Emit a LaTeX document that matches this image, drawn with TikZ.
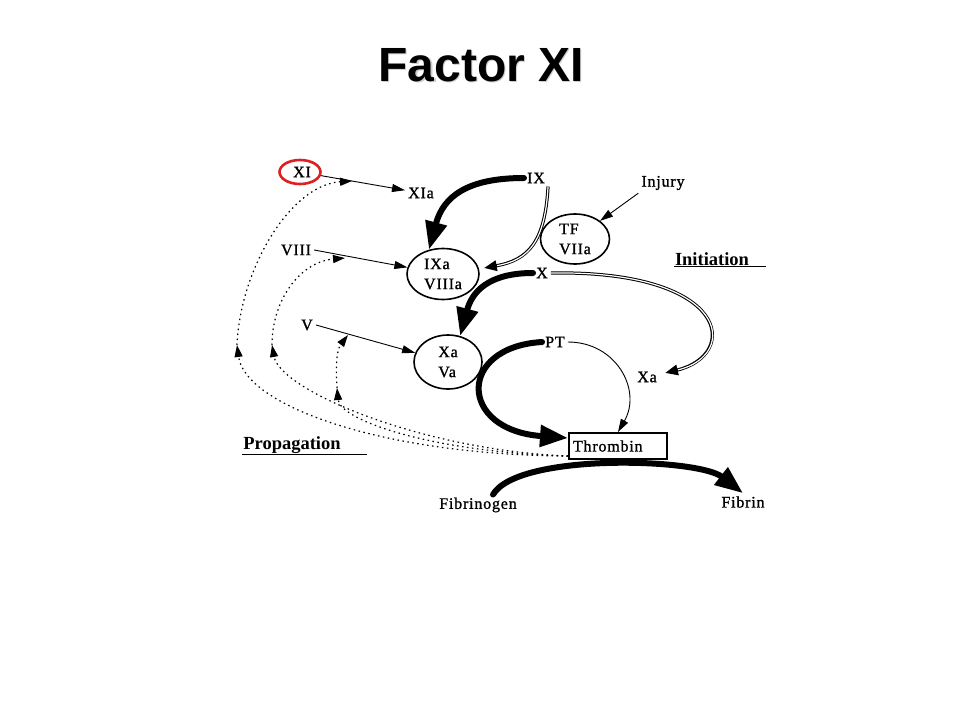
\documentclass[tikz,border=0pt]{standalone}
\usepackage{fontspec}
\setmainfont{Liberation Serif}
\newfontfamily\labfont{Liberation Serif}[LetterSpace=5, FakeBold=1.2]
\newfontfamily\titlefont{Liberation Sans}
\usetikzlibrary{arrows.meta, shapes.geometric}
\definecolor{ringred}{RGB}{222,32,32}
\tikzset{
x=1pt, y=1pt, % one unit is one pixel of the slide
factor/.style={inner sep=3pt, font=\labfont\fontsize{16}{20}\selectfont}, % plain factor names
complex/.style={ellipse, draw, line width=1.6pt, inner sep=0pt, align=left, font=\labfont\fontsize{16}{20}\selectfont}, % bound complexes
ring/.style={ellipse, draw=ringred, line width=2.6pt, minimum width=41pt, minimum height=24pt, inner sep=0pt}, % highlight
product/.style={draw, line width=2pt, anchor=west, text width=90pt, align=left, inner xsep=4pt, minimum height=26pt, font=\labfont\fontsize{16}{20}\selectfont},
heading/.style={inner sep=1pt, font=\bfseries\fontsize{18.5}{22}\selectfont}, % phase names
title/.style={font=\titlefont\bfseries\fontsize{48}{56}\selectfont},
conv/.style={line width=0.9pt, -{Triangle[length=13pt, width=8pt]}}, % thin arrows
big/.style={line width=6pt, line cap=round, -{Triangle[length=28pt, width=21pt]}}, % bold arrows
dbl/.style={line width=3.2pt, -{Triangle[length=13pt, width=10pt]}, postaction={draw=white, line width=1.2pt, -, shorten >=13.5pt}}, % double lines
feedback/.style={dash pattern=on 1.5pt off 3.5pt, line width=1.2pt, -{Triangle[length=12pt, width=8pt]}}, % thrombin feedback
}

\begin{document}
\begin{tikzpicture}
    \path[fill=white, use as bounding box] (0,0) rectangle (960,-720);
    % title with its shadow
    \node[title, text=gray!40] (titleshadow) at (482.5,-66.5) {Factor XI};
    \node[title] (title) at (481,-65) {Factor XI};
    % propagation side
    \node[factor] (XI) at (302,-172) {XI};
    \node[ring] (XIring) at (300,-172) {};
    \node[factor] (XIa) at (421,-193) {XIa};
    \node[factor] (VIII) at (296,-250) {VIII};
    \node[complex, minimum width=72pt, minimum height=51pt] (IXa) at (443,-274) {IXa\\VIIIa};
    \node[factor] (V) at (307,-325) {V};
    \node[complex, minimum width=68pt, minimum height=54pt] (XaVa) at (448,-362) {Xa\\Va};
    \node[factor] (IX) at (536,-178) {IX};
    % initiation side
    \node[factor] (Injury) at (663,-183) {Injury};
    \node[complex, minimum width=69pt, minimum height=50pt] (TF) at (575,-239) {TF\\VIIa};
    \node[factor] (X) at (542,-273) {X};
    \node[factor] (Xa) at (647,-377) {Xa};
    \node[factor] (PT) at (555,-342) {PT};
    \node[product] (Thrombin) at (568,-446) {Thrombin};
    \node[factor] (Fibrinogen) at (478,-505) {Fibrinogen};
    \node[factor] (Fibrin) at (743,-502) {Fibrin};
    % phase headings
    \node[heading] (Initiation) at (712,-259) {Initiation};
    \node[heading] (Propagation) at (292,-445) {Propagation};
    \draw[line width=1pt] (Initiation.south west) -- ++(92,0);
    \draw[line width=1pt] (Propagation.south west) -- ++(125,0);

    % thin arrows
    \draw (XIring) edge[conv] (XIa)
    (VIII.east) edge[conv] (IXa)
    (V.east) edge[conv] (XaVa)
    (Injury.south west) edge[conv] (TF);
    \draw[conv] (PT.east) to[out=0, in=60, looseness=1.2] (Thrombin.north);

    % bold arrows
    \draw[big] (IX.west) to[out=180, in=75, looseness=1.2] (IXa.120);
    \draw[big] (X.west) to[out=180, in=75, looseness=1.2] (XaVa.65);
    \draw[big] (PT.west) .. controls +(-85,-5) and +(-110,8) .. ([yshift=8pt]Thrombin.west);
    \draw[big] ([xshift=15pt]Fibrinogen.north) .. controls +(25,42) and +(-45,35) .. (Fibrin.north);

    % double lines
    \draw[dbl] (IX.south east) .. controls +(-3,-55) and +(45,8) .. ([shift={(4pt,6pt)}]IXa.east);
    \draw[dbl] (X.east) .. controls +(180,3) and +(75,18) .. ([shift={(5pt,4pt)}]Xa.east);

    % feedback from thrombin
    \coordinate (fb) at ([yshift=4pt]Thrombin.south west);
    \coordinate (p1) at (237,-345);
    \coordinate (p2) at (272,-345);
    \coordinate (p3) at (337,-388);
    \coordinate (t1) at (352,-181);
    \coordinate (t2) at (345,-258);
    \coordinate (t3) at (348,-335);
    \draw[feedback] (fb) .. controls (380,-455) and (245,-405) .. (p1);
    \draw[feedback] (fb) .. controls (420,-450) and (280,-390) .. (p2);
    \draw[feedback] (fb) .. controls (430,-452) and (340,-420) .. (p3);
    \draw[feedback] (p1) .. controls (240,-270) and (290,-185) .. (t1);
    \draw[feedback] (p2) .. controls (272,-300) and (300,-262) .. (t2);
    \draw[feedback] (p3) .. controls (335,-360) and (338,-348) .. (t3);
\end{tikzpicture}
\end{document}
